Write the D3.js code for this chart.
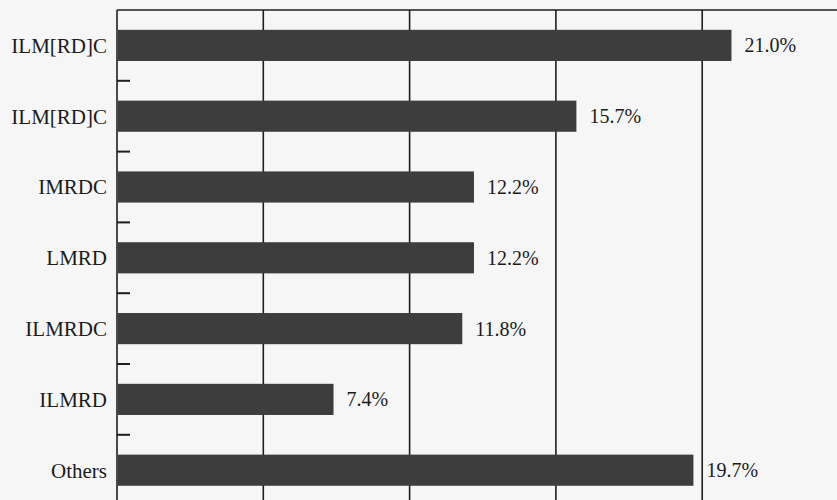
<!doctype html>
<html lang="en-US">
<head>
<meta charset="UTF-8">
<title>Sections</title>
<script src="https://cdn.jsdelivr.net/npm/d3@7"></script>
<style>
  body { margin:0; background:#f6f6f6; }
  svg text { font-family:"Liberation Serif","Times New Roman",serif; fill:#1b1b1b; }
</style>
</head>
<body>
<div id="viz"></div>
<script>
var categories = ["ILM[RD]C", "ILM[RD]C ", "IMRDC", "LMRD", "ILMRDC", "ILMRD", "Others"];
var shares = [21.0, 15.7, 12.2, 12.2, 11.8, 7.4, 19.7];
var gridTicks = [0, 5, 10, 15, 20, 25];

var W = 837, H = 500;
var padL = 117, padT = 10;

var svg = d3.select('#viz').append('svg').attr('width', W).attr('height', H);
svg.append('rect').attr('width', W).attr('height', H).attr('fill', '#f6f6f6');

// 5% per grid column, 146px apart
var x = d3.scaleLinear().domain([0, 25]).range([padL, padL + 731.5]);
var y = d3.scaleBand().domain(categories).range([padT, padT + 7 * 70.8])
  .paddingInner(0.56).paddingOuter(0.28);

// vertical grid
svg.selectAll('line.grid').data(gridTicks).enter().append('line')
  .attr('class', 'grid')
  .attr('x1', function(d) { return x(d); }).attr('x2', function(d) { return x(d); })
  .attr('y1', padT).attr('y2', H)
  .attr('stroke', '#1e1e1e').attr('stroke-width', 1.6);

// top frame
svg.append('line').attr('x1', padL).attr('x2', W).attr('y1', padT).attr('y2', padT)
  .attr('stroke', '#1e1e1e').attr('stroke-width', 1.6);

// bars
svg.selectAll('rect.bar').data(shares).enter().append('rect')
  .attr('class', 'bar')
  .attr('x', x(0) + 1)
  .attr('y', function(d, i) { return y(categories[i]); })
  .attr('width', function(d) { return x(d) - x(0) - 1; })
  .attr('height', y.bandwidth())
  .attr('fill', '#3d3d3d');

// inward ticks between categories
var bounds = categories.slice(1).map(function(c) { return y(c) - y.step() * y.paddingInner() / 2; });
svg.selectAll('line.tick').data(bounds).enter().append('line')
  .attr('class', 'tick')
  .attr('x1', padL).attr('x2', padL + 13)
  .attr('y1', function(d) { return d; }).attr('y2', function(d) { return d; })
  .attr('stroke', '#1e1e1e').attr('stroke-width', 2);

// category labels
svg.selectAll('text.cat').data(categories).enter().append('text')
  .attr('class', 'cat')
  .attr('x', padL - 10)
  .attr('y', function(d) { return y(d) + y.bandwidth() / 2; })
  .attr('dy', '0.35em')
  .attr('text-anchor', 'end')
  .attr('font-size', 21)
  .text(function(d) { return d.trim(); });

// value labels
svg.selectAll('text.val').data(shares).enter().append('text')
  .attr('class', 'val')
  .attr('x', function(d) { return x(d) + 13; })
  .attr('y', function(d, i) { return y(categories[i]) + y.bandwidth() / 2; })
  .attr('dy', '0.35em')
  .attr('font-size', 20)
  .text(function(d) { return d.toFixed(1) + '%'; });
</script>
</body>
</html>
